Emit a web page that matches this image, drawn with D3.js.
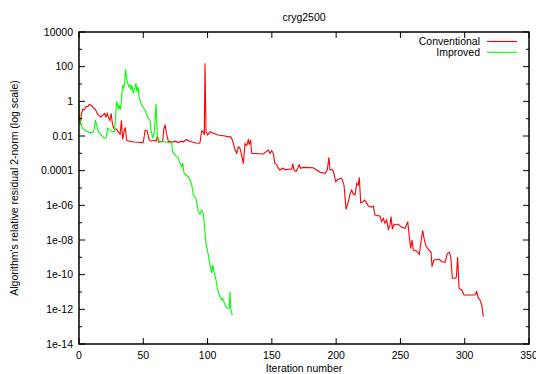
<!DOCTYPE html>
<html>
<head>
<meta charset="utf-8">
<script src="https://cdn.jsdelivr.net/npm/d3@7"></script>
<style>
  body { margin: 0; background: #fff; }
  svg { display: block; font-family: "Liberation Sans", Arial, sans-serif; }
</style>
</head>
<body>
<div id="chart"></div>
<script>
// Series: [iteration, log10(residual)]
const conventional = [
  [0, -0.8], [1, -1.35], [2, -0.7], [3, -0.45], [4, -0.5], [5.5, -0.3], [7, -0.3], [8, -0.18],
  [10, -0.25], [11, -0.35], [13, -0.5], [14.5, -0.75], [16, -0.85], [17, -0.9], [19, -0.75],
  [20, -0.7], [21, -0.9], [22, -0.7], [23, -0.95], [24, -1.1], [25, -0.7], [26, -1.3],
  [27, -1.55], [28, -1.6], [29, -1.6], [30, -1.7], [32, -1.9], [33, -1.1], [34, -2.2],
  [35, -1.75], [36, -1.5], [37, -2.23], [39, -2.3], [43, -2.35], [46, -2.36], [49, -2.38],
  [50, -2.35], [51.5, -1.65], [53, -1.7], [54.5, -2.2], [56, -2.3], [58, -2.25], [60, -2.3],
  [61, -2.0], [62, -2.35], [65, -2.3], [66, -1.6], [67, -1.35], [68, -1.85], [69.5, -2.3],
  [73, -2.35], [75, -2.3], [77, -2.38], [80, -2.3], [81, -2.35], [83.5, -2.2], [86, -2.3],
  [88, -2.35], [91, -2.4], [94, -2.42], [95.4, -1.7], [96.5, -1.75], [97.5, -1.94], [98, 2.2],
  [98.8, -1.75], [100, -1.94], [102, -1.75], [104.5, -1.84], [108, -1.94], [113.6, -2.0],
  [116, -2.05], [117.4, -2.03], [118.8, -2.15], [120, -2.4], [121.3, -2.8], [122.7, -3.0],
  [123.9, -2.62], [125.2, -2.71], [126.5, -3.1], [127.8, -3.6], [129.1, -2.45], [130.4, -2.55],
  [131.7, -2.23], [132.5, -2.5], [133.5, -2.23], [134.3, -3.0], [143.3, -3.04], [147.2, -2.81],
  [148.6, -3.0], [149.9, -2.85], [151.1, -3.0], [152.4, -3.58], [153.8, -3.65], [155, -3.86],
  [156.3, -3.96], [158.4, -3.86], [160.5, -3.95], [162.6, -3.92], [165.4, -3.92], [166.2, -3.6],
  [167.2, -3.96], [168.8, -4.06], [171.3, -3.67], [172.4, -3.86], [174.5, -3.81], [182.2, -3.83],
  [184.9, -3.96], [187.4, -4.09], [191.3, -4.15], [193.1, -3.96], [194.4, -3.23], [195.2, -3.96],
  [196.5, -3.92], [197.8, -4.02], [199.7, -4.64], [201.2, -4.5], [204.3, -4.44], [206.1, -4.83],
  [207.7, -6.23], [209.5, -5.79], [210.8, -5.35], [212.1, -5.12], [213.3, -5.35], [214.7, -5.4],
  [216, -4.73], [217.2, -4.83], [218, -4.38], [219.1, -5.85], [221.1, -5.79], [222, -5.7],
  [223.2, -5.79], [225, -6.04], [227.7, -6.11], [228.9, -6.04], [230.2, -6.56], [232.8, -6.6],
  [234, -6.62], [235.4, -6.94], [236.7, -6.75], [238, -7.04], [239.3, -6.85], [240.6, -7.38],
  [241.9, -7.13], [242.7, -6.65], [243.7, -7.38], [245, -7.08], [246.6, -7.13], [248.3, -7.08],
  [251, -7.27], [253.6, -7.33], [255.7, -6.94], [256.9, -7.81], [258, -8.48], [259, -8.0],
  [260, -8.58], [262.7, -8.65], [264.7, -8.83], [266, -8.1], [267.3, -7.45], [268.6, -8.0],
  [269.9, -8.35], [272.2, -8.58], [273.8, -8.71], [274.6, -9.54], [276.1, -9.15], [280.2, -9.11],
  [282.1, -9.25], [284.7, -9.29], [286.5, -8.77], [288, -8.71], [289.1, -8.95], [290.4, -10.21],
  [292.5, -10.21], [293.5, -10.15], [294.5, -9.0], [295.6, -10.79], [297.7, -10.88],
  [299.5, -11.17], [308, -11.17], [309.3, -10.98], [310.6, -11.36], [311.9, -11.46],
  [313.2, -11.75], [314.5, -12.43]
];

const improved = [
  [0, -0.1], [1, -1.17], [2.9, -1.56], [5.4, -1.71], [8, -1.79], [10.7, -1.81], [11.9, -1.56],
  [12.7, -1.08], [13.8, -1.37], [15, -1.75], [17.1, -1.94], [19.7, -2.13], [21, -2.13],
  [22.3, -1.56], [23.6, -1.65], [25.7, -1.75], [27.5, -1.75], [28.2, -1.17], [29.3, -0.02],
  [30.6, -0.4], [31.3, -0.21], [32.1, -0.5], [32.9, -0.02], [34, 0.94], [34.8, 0.75],
  [35.5, 1.04], [36.2, 1.85], [37.3, 1.23], [38.7, 0.84], [39.7, 0.94], [40.4, 0.65],
  [41.2, 0.94], [42.2, 0.46], [43.6, 0.84], [44.3, 1.04], [45.1, 0.56], [45.9, 0.84],
  [46.9, 0.17], [48.2, -0.11], [49.5, -0.31], [51.3, -0.5], [52.7, -0.79], [53.9, -0.98],
  [55.2, -1.08], [56, -1.65], [57.3, -2.13], [58.6, -1.75], [59.9, -0.15], [60.9, -1.94],
  [61.7, -2.23], [63, -2.33], [66.9, -2.33], [70.8, -2.39], [72.1, -2.42], [72.9, -2.91],
  [74.7, -3.1], [76, -3.19], [77.2, -3.24], [78, -3.48], [79.9, -3.77], [80.7, -3.56],
  [81.7, -4.15], [83.2, -4.25], [85, -4.35], [86.3, -4.54], [87.7, -4.83], [88.9, -5.4],
  [91, -5.6], [92.8, -6.37], [94.1, -6.52], [95.4, -6.27], [96.7, -6.46], [97.5, -7.13],
  [98.8, -8.19], [100.6, -8.87], [101.9, -9.44], [103.2, -9.92], [104, -9.44], [105, -9.83],
  [106.6, -10.31], [107.6, -10.79], [109.7, -11.27], [111, -11.46], [111.8, -11.36],
  [113.6, -11.75], [115.3, -11.94], [116.9, -11.94], [117.4, -10.98], [118, -11.94],
  [119.2, -12.33]
];

const xTicks = [0, 50, 100, 150, 200, 250, 300, 350];
const yMajorTicks = [1e4, 1e2, 1, 1e-2, 1e-4, 1e-6, 1e-8, 1e-10, 1e-12, 1e-14];
const yTickLabels = ['10000', '100', '1', '0.01', '0.0001', '1e-06', '1e-08', '1e-10', '1e-12', '1e-14'];
const yMinorTicks = [1e3, 1e1, 1e-1, 1e-3, 1e-5, 1e-7, 1e-9, 1e-11, 1e-13];

const width = 536, height = 374;
const margin = { top: 32, right: 7, bottom: 30, left: 79 };
const x0 = margin.left, x1 = width - margin.right;
const y0 = margin.top, y1 = height - margin.bottom;

const svg = d3.select('#chart').append('svg')
  .attr('width', width)
  .attr('height', height);

const x = d3.scaleLinear().domain([0, 350]).range([x0, x1]);
const y = d3.scaleLog().domain([1e-14, 1e4]).range([y1, y0]);

const fontSize = 10.5;

// Title
svg.append('text')
  .attr('x', (x0 + x1) / 2).attr('y', 21)
  .attr('text-anchor', 'middle')
  .attr('font-size', fontSize)
  .attr('fill', '#000')
  .text('cryg2500');

// Series lines
const line = d3.line()
  .x(d => x(d[0]))
  .y(d => y(Math.pow(10, d[1])));

svg.append('path')
  .datum(conventional)
  .attr('fill', 'none')
  .attr('stroke', '#ff0000')
  .attr('stroke-width', 1.1)
  .attr('d', line);

svg.append('path')
  .datum(improved)
  .attr('fill', 'none')
  .attr('stroke', '#00ff00')
  .attr('stroke-width', 1.1)
  .attr('d', line);

// Ticks (mirrored on all sides, gnuplot style)
const ticks = svg.append('g').attr('stroke', '#000').attr('stroke-width', 1);
const majorLen = 6, minorLen = 3;

xTicks.forEach(t => {
  ticks.append('line').attr('x1', x(t)).attr('x2', x(t)).attr('y1', y1).attr('y2', y1 - majorLen);
  ticks.append('line').attr('x1', x(t)).attr('x2', x(t)).attr('y1', y0).attr('y2', y0 + majorLen);
});
yMajorTicks.forEach(t => {
  ticks.append('line').attr('x1', x0).attr('x2', x0 + majorLen).attr('y1', y(t)).attr('y2', y(t));
  ticks.append('line').attr('x1', x1).attr('x2', x1 - majorLen).attr('y1', y(t)).attr('y2', y(t));
});
yMinorTicks.forEach(t => {
  ticks.append('line').attr('x1', x0).attr('x2', x0 + minorLen).attr('y1', y(t)).attr('y2', y(t));
  ticks.append('line').attr('x1', x1).attr('x2', x1 - minorLen).attr('y1', y(t)).attr('y2', y(t));
});

// Frame
svg.append('rect')
  .attr('x', x0).attr('y', y0)
  .attr('width', x1 - x0).attr('height', y1 - y0)
  .attr('fill', 'none')
  .attr('stroke', '#000')
  .attr('stroke-width', 1.5);

// Tick labels
svg.append('g').selectAll('text')
  .data(xTicks)
  .join('text')
  .attr('x', d => x(d))
  .attr('y', y1 + 15)
  .attr('text-anchor', 'middle')
  .attr('font-size', fontSize)
  .text(d => d);

svg.append('g').selectAll('text')
  .data(yMajorTicks)
  .join('text')
  .attr('x', x0 - 6)
  .attr('y', d => y(d) + 3.8)
  .attr('text-anchor', 'end')
  .attr('font-size', fontSize)
  .text((d, i) => yTickLabels[i]);

// Axis titles
svg.append('text')
  .attr('x', (x0 + x1) / 2).attr('y', 372)
  .attr('text-anchor', 'middle')
  .attr('font-size', fontSize)
  .text('Iteration number');

svg.append('text')
  .attr('transform', `translate(18,${(y0 + y1) / 2}) rotate(-90)`)
  .attr('text-anchor', 'middle')
  .attr('font-size', fontSize)
  .text("Algorithm's relative residual 2-norm (log scale)");

// Legend
const legend = [
  { name: 'Conventional', color: '#ff0000' },
  { name: 'Improved', color: '#00ff00' }
];
const lg = svg.append('g');
legend.forEach((s, i) => {
  const ly = 41.5 + i * 10.8;
  lg.append('text')
    .attr('x', 480).attr('y', ly + 3.8)
    .attr('text-anchor', 'end')
    .attr('font-size', fontSize)
    .text(s.name);
  lg.append('line')
    .attr('x1', 487).attr('x2', 517)
    .attr('y1', ly).attr('y2', ly)
    .attr('stroke', s.color)
    .attr('stroke-width', 1.1);
});
</script>
</body>
</html>
